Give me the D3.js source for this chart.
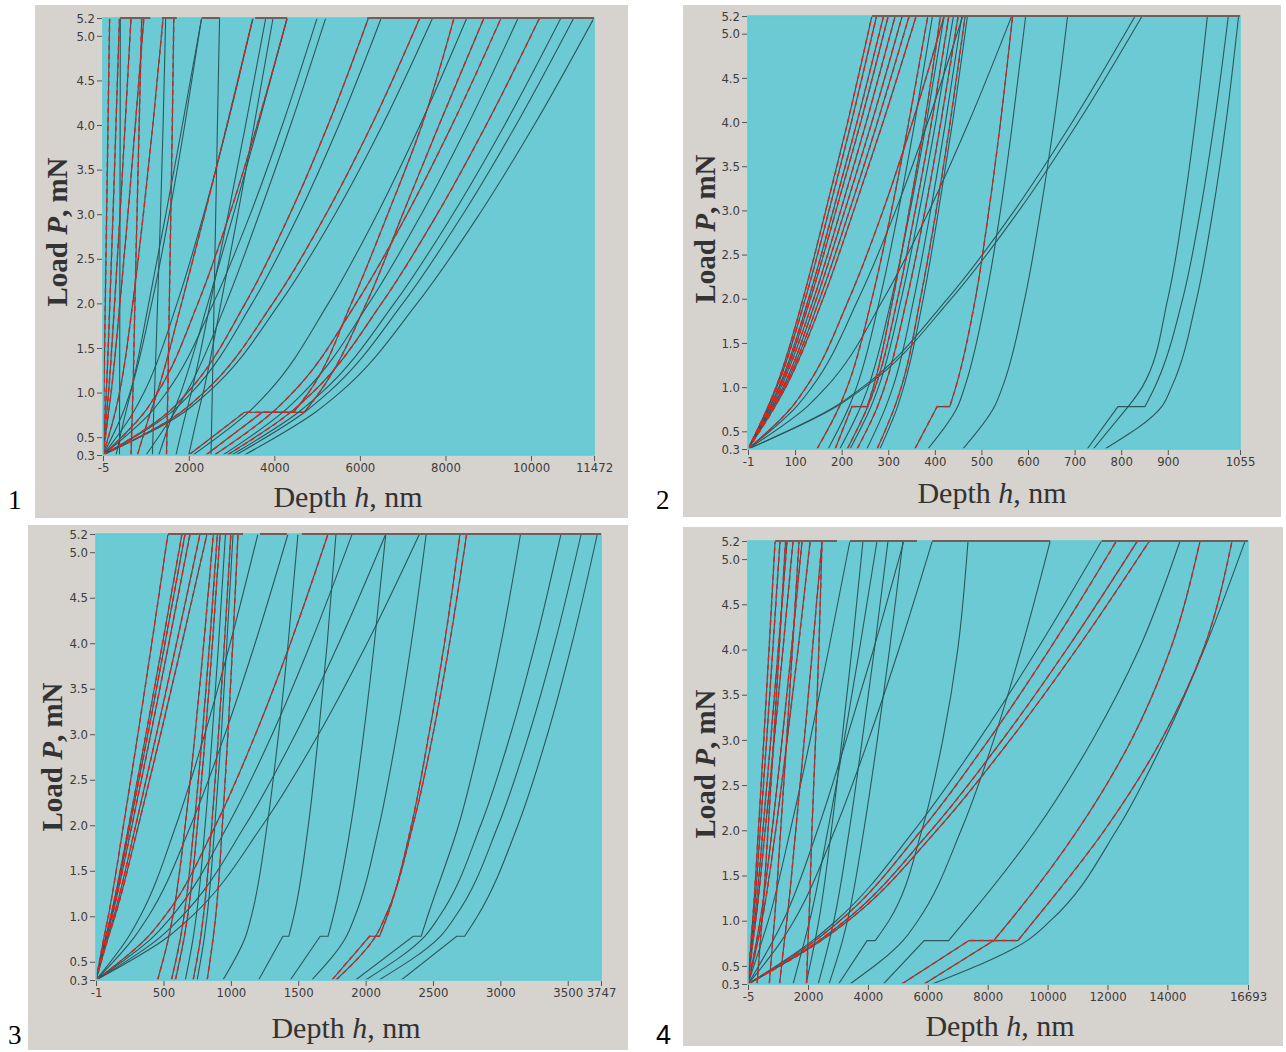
<!DOCTYPE html>
<html><head><meta charset="utf-8">
<script src="https://cdn.jsdelivr.net/npm/d3@7"></script>
<style>
body{margin:0;background:#fff;}
svg{display:block;}
.tick text{font-family:'Liberation Sans Narrow','Arial Narrow','DejaVu Sans Condensed',sans-serif;font-size:13px;fill:#3c3c3c;}
.tick line{stroke:#555;}
</style></head><body>
<svg id="fig" width="1286" height="1052"></svg>
<script>
// Load levels (mN) at which each curve's depth is read; 8th value (if any) = pop-in end depth at level 0.78
const loadLevels = [0.3, 0.78, 1.0, 2.0, 3.0, 4.0, 5.2];
const loadTicks = [0.3, 0.5, 1.0, 1.5, 2.0, 2.5, 3.0, 3.5, 4.0, 4.5, 5.0, 5.2];

const depthTicks1 = [-5, 2000, 4000, 6000, 8000, 10000, 11472];
const depthTicks2 = [-1, 100, 200, 300, 400, 500, 600, 700, 800, 900, 1055];
const depthTicks3 = [-1, 500, 1000, 1500, 2000, 2500, 3000, 3500, 3747];
const depthTicks4 = [-5, 2000, 4000, 6000, 8000, 10000, 12000, 14000, 16693];

const curves1 = [
 [-5,10,17,48,80,112,150],[-5,47,71,155,229,298,380],[-5,84,124,266,393,512,650],
 [-5,126,184,390,577,750,950],[-5,280,380,690,938,1160,1400],[-5,465,626,1133,1544,1906,2300],
 [-5,706,952,1726,2350,2900,3500],[-5,965,1270,2213,2955,3600,4300],[-5,1120,1478,2572,3437,4188,5000],
 [-5,1522,1968,3320,4362,5255,6200],[-5,1595,2063,3480,4573,5510,6500],[-5,1816,2350,3963,5207,6274,7400],
 [-5,1890,2445,4124,5418,6528,7700],[380,382,384,388,392,396,400],[650,680,695,740,790,840,900],
 [1150,1180,1200,1270,1340,1400,1460],[1480,1500,1510,1545,1580,1615,1650],[2520,2540,2550,2590,2630,2670,2720],
 [1700,1940,2059,2502,2922,3328,3800],[2000,2225,2337,2752,3147,3527,3970],[300,528,642,1064,1464,1850,2300],
 [800,1108,1262,1831,2371,2893,3500],[1300,1642,1813,2446,3046,3625,4300],[1000,1672,1945,2869,3646,4381,5200],
 [2100,3399,3847,5262,6401,7406,8500],[2400,3720,5050,6150,7000,7850,8900,4700],[2600,3960,4429,5910,7102,8154,9300],
 [2800,4200,4684,6209,7437,8520,9700],[2900,4382,4893,6506,7806,8952,10200],[3000,4563,5102,6804,8174,9383,10700],
 [3100,4704,5257,7003,8409,9649,11000],[3300,4959,5531,7337,8792,10075,11472],[2000,3300,4800,5800,6650,7450,8200,4450]
];
const red1 = [0,1,2,3,4,7,9,11,14,16,21,25,26,28,32];
const holds1 = [[390,1100],[1370,1720],[2300,2730],[3550,4300],[6170,11472]];

const curves2 = [
 [-1,42,59,117,166,213,265],[-1,43,61,122,173,221,275],[-1,46,65,129,182,233,290],[-1,47,67,133,188,241,300],
 [-1,50,70,140,198,253,315],[-1,52,74,146,207,265,330],[-1,54,77,153,217,277,345],[-1,57,80,160,226,289,360],
 [-1,94,124,216,289,352,420],[-1,103,136,236,316,385,460],[-1,126,167,290,388,473,565],[-1,186,245,427,571,695,830],
 [-1,189,250,435,581,708,845],[147,195,212,265,307,344,385],[171,216,232,282,322,357,395],[186,222,268,310,345,378,412,255],
 [196,241,257,307,347,382,420],[212,256,272,320,358,393,430],[218,263,279,328,367,402,440],[233,277,292,340,379,413,450],
 [254,295,310,355,391,423,458],[276,314,328,369,403,433,465],[282,320,333,375,408,438,470],[357,405,445,487,516,541,567,432],
 [385,449,464,509,541,567,595],[460,528,545,593,627,656,685],[727,793,845,900,933,959,985,815],
 [740,815,872,932,970,1000,1030,851],[765,887,908,962,997,1025,1052]
];
const red2 = [0,1,2,3,4,5,6,7,8,13,15,17,19,21,23];
const holds2 = [[265,1055]];

const curves3 = [
 [-1,60,90,203,310,413,533],[-1,72,108,243,370,493,637],[-1,74,112,251,384,511,660],[-1,79,118,266,405,540,697],
 [-1,87,131,294,448,597,771],[-1,93,140,314,479,637,823],[-1,243,327,593,806,995,1201],[-1,288,388,703,956,1180,1424],
 [-1,387,509,886,1183,1442,1721],[-1,427,562,978,1307,1592,1900],[-1,539,710,1235,1651,2011,2400],[-1,483,636,1107,1479,1801,2150],
 [456,540,569,661,734,799,870],[559,628,652,727,788,842,900],[588,655,679,752,811,863,920],[662,722,743,809,862,909,960],
 [720,777,796,858,908,952,1000],[750,804,823,881,929,970,1016],[824,870,887,937,978,1014,1053],[941,1110,1152,1269,1354,1425,1498],
 [1206,1386,1467,1575,1650,1715,1780,1430],[1441,1663,1760,1890,1985,2065,2150,1721],[1750,2029,2160,2340,2470,2585,2700,2103],
 [1780,2074,2147,2351,2500,2623,2750],[1926,2353,2460,2690,2860,3005,3150,2412],[2265,2676,2830,3130,3350,3532,3720,2735],
 [2000,2439,2548,2854,3076,3260,3450],[2100,2555,2667,2984,3213,3404,3600],[1600,1858,1921,2101,2231,2339,2450]
];
const red3 = [0,1,2,3,4,5,8,12,13,14,16,18,22,23];
const holds3 = [[533,1090],[1216,1416],[1527,3747]];

const curves4 = [
 [-5,98,150,342,522,696,900],[-5,116,177,403,617,823,1064],[-5,143,218,493,754,1006,1300],[-5,166,252,570,870,1161,1500],
 [-5,284,400,799,1132,1448,1800],[-5,327,461,918,1302,1665,2070],[-5,2148,2938,5546,7705,9652,11800],
 [-5,2239,3063,5781,8032,10061,12300],[-5,2366,3237,6110,8489,10634,13000],[-5,2439,3337,6298,8750,10961,13400],
 [-5,832,1170,2314,3276,4186,5200],[-5,1119,1531,2890,4016,5031,6150],[-5,466,673,1408,2071,2689,3400],
 [300,408,462,663,853,1036,1250],[707,820,877,1086,1285,1477,1700],[1048,1210,1291,1590,1874,2148,2467],
 [1950,2000,2030,2130,2250,2360,2467],[1932,2237,2360,2779,3131,3465,3836],[2340,2713,2864,3377,3809,4216,4671],
 [3020,3973,4700,5800,6500,7000,7343,4245],[2700,3150,3316,3862,4314,4722,5172],[4517,5878,7250,9600,11500,13050,14424,6694],
 [5129,7374,8750,11000,12800,14100,15092,8200],[5878,8200,9550,11900,13800,15200,16160,9007],
 [6150,9315,10098,12302,13900,15227,16595],[3400,5172,5667,7111,8201,9117,10087],[1500,1884,2055,2661,3208,3718,4304]
];
const red4 = [0,1,2,3,4,5,7,8,9,13,14,15,16,22,23];
const holds4 = [[900,2968],[3402,5640],[6141,10087],[11800,16693]];

const panels = [
 {id:1, curves:curves1, red:red1, holds:holds1, ticks:depthTicks1, bg:[35,5,628,518], plot:[103,18,594,455], yl:[57,232], xl:[348,507], num:[8,509], numFont:"'Liberation Serif',serif"},
 {id:2, curves:curves2, red:red2, holds:holds2, ticks:depthTicks2, bg:[683,5,1281,517], plot:[748,16,1240,449], yl:[705,229], xl:[992,503], num:[656,509], numFont:"'Liberation Serif',serif"},
 {id:3, curves:curves3, red:red3, holds:holds3, ticks:depthTicks3, bg:[28,525,628,1050], plot:[96,534,601,980], yl:[52,757], xl:[346,1038], num:[8,1044], numFont:"'Liberation Serif',serif"},
 {id:4, curves:curves4, red:red4, holds:holds4, ticks:depthTicks4, bg:[683,527,1283,1046], plot:[748,541,1248,984], yl:[705,764], xl:[1000,1036], num:[656,1044], numFont:"'Liberation Sans',sans-serif"}
];

const svg = d3.select('#fig');
const defs = svg.append('defs');
const lineGen = d3.line().curve(d3.curveMonotoneY);

function curvePoints(c){
  const pts = loadLevels.map((P,i)=>[c[i],P]);
  if (c.length > loadLevels.length) pts.splice(2,0,[c[loadLevels.length], loadLevels[1]]);
  return pts;
}
function pathFor(c,x,y){
  const pts = curvePoints(c).map(d=>[x(d[0]),y(d[1])]);
  const runs=[[pts[0]]];
  for(let i=1;i<pts.length;i++){
    if (Math.abs(pts[i][1]-pts[i-1][1])<1e-6) runs.push([pts[i]]);
    else runs[runs.length-1].push(pts[i]);
  }
  return runs.map((r,k)=>{ let s=lineGen(r).replace(/Z$/,''); return k? 'L'+s.slice(1):s; }).join('');
}

panels.forEach(p=>{
  const g = svg.append('g');
  const [bx0,by0,bx1,by1]=p.bg, [px0,py0,px1,py1]=p.plot;
  g.append('rect').attr('x',bx0).attr('y',by0).attr('width',bx1-bx0).attr('height',by1-by0).attr('fill','#d6d2cd');
  const dom = d3.extent(p.ticks);
  const x = d3.scaleLinear().domain(dom).range([px0,px1]);
  const y = d3.scaleLinear().domain([0.3,5.2]).range([py1,py0]);
  g.append('rect').attr('x',px0).attr('y',py0).attr('width',px1-px0).attr('height',py1-py0).attr('fill','#6ccad5');
  defs.append('clipPath').attr('id','clip'+p.id).append('rect')
    .attr('x',px0).attr('y',py0-1).attr('width',px1-px0).attr('height',py1-py0+1);
  const cg = g.append('g').attr('clip-path',`url(#clip${p.id})`);
  cg.selectAll('path.base').data(p.curves).join('path').attr('class','base')
    .attr('d',c=>pathFor(c,x,y)).attr('fill','none').attr('stroke','#2c575b').attr('stroke-width',1.1);
  cg.selectAll('path.red').data(p.red.map(i=>p.curves[i])).join('path').attr('class','red')
    .attr('d',c=>pathFor(c,x,y)).attr('fill','none').attr('stroke','#e3201c').attr('stroke-width',1.5)
    .attr('stroke-dasharray','5,4');
  g.append('rect').attr('x',px0).attr('y',py0).attr('width',px1-px0).attr('height',py1-py0)
    .attr('fill','none').attr('stroke','#55cfd8').attr('stroke-width',1.5);
  g.selectAll('line.hold').data(p.holds).join('line').attr('class','hold')
    .attr('x1',d=>x(d[0])).attr('x2',d=>x(d[1])).attr('y1',y(5.2)).attr('y2',y(5.2))
    .attr('stroke','#6e5f5c').attr('stroke-width',2);
  const ya = d3.axisLeft(y).tickValues(loadTicks).tickFormat(d3.format('.1f')).tickSize(5).tickPadding(2);
  g.append('g').attr('transform',`translate(${px0-1},0)`).call(ya).call(a=>a.select('.domain').remove());
  const xa = d3.axisBottom(x).tickValues(p.ticks).tickFormat(d=>String(d)).tickSize(5).tickPadding(2);
  g.append('g').attr('transform',`translate(0,${py1+1})`).call(xa).call(a=>a.select('.domain').remove());
  const yt = g.append('text').attr('transform',`translate(${p.yl[0]},${p.yl[1]}) rotate(-90)`)
    .attr('text-anchor','middle').attr('dy','0.35em')
    .style('font-family',"'Liberation Serif',serif").style('font-size','29px').style('font-weight','bold').style('fill','#333');
  yt.append('tspan').text('Load ');
  yt.append('tspan').style('font-style','italic').text('P');
  yt.append('tspan').text(', mN');
  const xt = g.append('text').attr('x',p.xl[0]).attr('y',p.xl[1]).attr('text-anchor','middle')
    .style('font-family',"'Liberation Serif',serif").style('font-size','30px').style('fill','#333');
  xt.append('tspan').text('Depth ');
  xt.append('tspan').style('font-style','italic').text('h');
  xt.append('tspan').text(', nm');
  svg.append('text').attr('x',p.num[0]).attr('y',p.num[1]).text(String(p.id))
    .style('font-family',p.numFont).style('font-size','27px').style('fill','#000');
});
</script>
</body></html>
